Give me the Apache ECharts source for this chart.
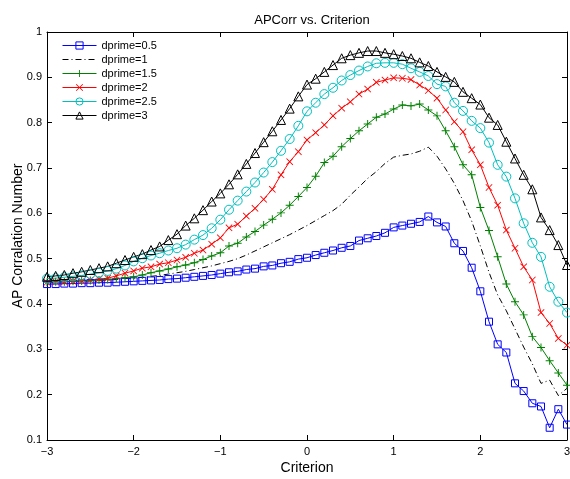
<!DOCTYPE html>
<html><head><meta charset="utf-8">
<script src="https://cdn.jsdelivr.net/npm/echarts@6/dist/echarts.min.js"></script>
<style>html,body{margin:0;padding:0;background:#fff}#c{width:570px;height:479px}</style>
</head><body><div id="c"></div>
<script>
var criterion = [-3.0,-2.9,-2.8,-2.7,-2.6,-2.5,-2.4,-2.3,-2.2,-2.1,-2.0,-1.9,-1.8,-1.7,-1.6,-1.5,-1.4,-1.3,-1.2,-1.1,-1.0,-0.9,-0.8,-0.7,-0.6,-0.5,-0.4,-0.3,-0.2,-0.1,0.0,0.1,0.2,0.3,0.4,0.5,0.6,0.7,0.8,0.9,1.0,1.1,1.2,1.3,1.4,1.5,1.6,1.7,1.8,1.9,2.0,2.1,2.2,2.3,2.4,2.5,2.6,2.7,2.8,2.9,3.0];
var d05 = [0.444,0.444,0.445,0.445,0.446,0.446,0.447,0.447,0.448,0.449,0.450,0.451,0.452,0.453,0.455,0.456,0.458,0.460,0.462,0.464,0.467,0.470,0.472,0.476,0.478,0.483,0.485,0.490,0.493,0.499,0.502,0.508,0.513,0.518,0.524,0.528,0.540,0.545,0.550,0.557,0.569,0.573,0.577,0.581,0.593,0.580,0.571,0.534,0.517,0.480,0.428,0.361,0.311,0.293,0.225,0.208,0.181,0.174,0.127,0.168,0.134];
var d1 = [0.448,0.448,0.449,0.449,0.450,0.451,0.452,0.453,0.454,0.456,0.457,0.459,0.461,0.463,0.466,0.469,0.472,0.476,0.480,0.484,0.489,0.494,0.500,0.508,0.517,0.526,0.535,0.544,0.553,0.563,0.573,0.584,0.595,0.606,0.620,0.640,0.658,0.677,0.692,0.710,0.724,0.728,0.731,0.737,0.746,0.726,0.698,0.666,0.628,0.583,0.528,0.470,0.420,0.385,0.345,0.305,0.268,0.225,0.232,0.198,0.214];
var d15 = [0.448,0.449,0.449,0.450,0.451,0.452,0.453,0.454,0.456,0.458,0.460,0.464,0.469,0.473,0.477,0.482,0.486,0.491,0.498,0.506,0.513,0.528,0.534,0.548,0.560,0.574,0.587,0.601,0.618,0.637,0.657,0.682,0.712,0.726,0.747,0.765,0.782,0.797,0.812,0.819,0.830,0.839,0.837,0.841,0.828,0.815,0.782,0.747,0.707,0.685,0.613,0.562,0.504,0.444,0.405,0.376,0.328,0.304,0.275,0.248,0.221];
var d2 = [0.448,0.449,0.449,0.450,0.451,0.453,0.455,0.457,0.462,0.468,0.473,0.479,0.482,0.488,0.491,0.497,0.503,0.512,0.519,0.532,0.546,0.568,0.576,0.594,0.611,0.631,0.653,0.685,0.714,0.736,0.762,0.778,0.795,0.815,0.832,0.846,0.863,0.874,0.889,0.894,0.899,0.898,0.895,0.883,0.871,0.854,0.828,0.802,0.780,0.740,0.707,0.657,0.618,0.563,0.523,0.482,0.453,0.381,0.357,0.324,0.309];
var d25 = [0.456,0.457,0.459,0.461,0.463,0.466,0.469,0.473,0.478,0.485,0.494,0.501,0.507,0.512,0.518,0.523,0.531,0.542,0.552,0.567,0.586,0.608,0.628,0.648,0.668,0.690,0.713,0.738,0.764,0.793,0.825,0.844,0.863,0.877,0.893,0.905,0.915,0.924,0.931,0.932,0.932,0.929,0.920,0.912,0.903,0.885,0.880,0.844,0.826,0.804,0.788,0.756,0.707,0.681,0.633,0.578,0.535,0.504,0.438,0.405,0.381];
var d3 = [0.460,0.462,0.464,0.468,0.471,0.475,0.479,0.483,0.490,0.497,0.504,0.510,0.519,0.527,0.541,0.554,0.573,0.589,0.607,0.626,0.644,0.664,0.686,0.709,0.733,0.757,0.781,0.806,0.831,0.858,0.884,0.897,0.912,0.927,0.942,0.949,0.954,0.958,0.958,0.954,0.951,0.947,0.942,0.933,0.925,0.912,0.901,0.890,0.868,0.854,0.840,0.811,0.795,0.758,0.721,0.685,0.653,0.591,0.563,0.530,0.486];
var seriesNames = ['dprime=0.5','dprime=1','dprime=1.5','dprime=2','dprime=2.5','dprime=3'];
var seriesData = [d05, d1, d15, d2, d25, d3];

var colors = ['#0000ff','#000000','#008000','#ff0000','#00bfbf','#000000'];
var plusPath = 'path://M4.4,0H5.6V4.4H10V5.6H5.6V10H4.4V5.6H0V4.4H4.4Z';
var crossPath = 'path://M0,0.85L0.85,0L5,4.15L9.15,0L10,0.85L5.85,5L10,9.15L9.15,10L5,5.85L0.85,10L0,9.15L4.15,5Z';
var symbols = ['rect','none',plusPath,crossPath,'circle','triangle'];
var filled = [false,false,true,true,false,false];
var sizes = [7,0,8,7,9,9];
var dashDot = [6,3,1,3];

function pairs(ys){ var out=[]; for(var i=0;i<criterion.length;i++) out.push([criterion[i], ys[i]]); return out; }
function symStyle(i){
  return filled[i] ? {color:colors[i], borderWidth:0}
                   : {color:'rgba(0,0,0,0)', borderColor:colors[i], borderWidth:1};
}

var font = 'Liberation Sans, Arial, Helvetica, sans-serif';
var series = seriesNames.map(function(n,i){
  return {
    name:n, type:'line', data:pairs(seriesData[i]), xAxisIndex:0, yAxisIndex:0,
    symbol:symbols[i], symbolSize:sizes[i], showSymbol: i!==1,
    color: colors[i],
    lineStyle:{color:colors[i], width:1, type: i===1 ? dashDot : 'solid'},
    itemStyle:symStyle(i),
    emphasis:{disabled:true}, animation:false
  };
});

var legendData = seriesNames.map(function(n,i){
  var st = symStyle(i);
  if (i===1) st.opacity = 0;
  return {name:n, itemStyle:st,
    lineStyle:{color:colors[i], width:1, type: i===1 ? dashDot : 'solid'}};
});

var chart = echarts.init(document.getElementById('c'));
chart.setOption({
  backgroundColor:'#fff',
  animation:false,
  title:{text:'APCorr vs. Criterion', left:307, top:9, textAlign:'center',
    textStyle:{fontFamily:font, fontSize:13, fontWeight:'normal', color:'#000'}},
  grid:{left:47, right:3, top:32, bottom:39, containLabel:false, outerBoundsMode:'none'},
  legend:{orient:'vertical', left:62, top:40, padding:0, itemWidth:34, itemHeight:9, itemGap:3,
    textStyle:{fontFamily:font, fontSize:11, color:'#000'}, data:legendData, selectedMode:false},
  xAxis:[
    {type:'value', position:'bottom', min:-3, max:3, interval:1,
     name:'Criterion', nameLocation:'middle', nameGap:21, nameMoveOverlap:false,
     nameTextStyle:{fontFamily:font, fontSize:14, color:'#000'},
     axisLine:{show:true, onZero:false, lineStyle:{color:'#000'}},
     axisTick:{show:true, inside:true, length:5, lineStyle:{color:'#000'}},
     axisLabel:{fontFamily:font, fontSize:11, color:'#000', margin:6,
       formatter:function(v){return v<0 ? '\u2212'+Math.abs(v) : String(v);}},
     splitLine:{show:false}},
    {type:'value', position:'top', min:-3, max:3, interval:1,
     axisLine:{show:true, onZero:false, lineStyle:{color:'#000'}},
     axisTick:{show:true, inside:true, length:5, lineStyle:{color:'#000'}},
     axisLabel:{show:false}, splitLine:{show:false}}
  ],
  yAxis:[
    {type:'value', position:'left', min:0.1, max:1, interval:0.1,
     name:'AP Corralation Number', nameLocation:'middle', nameGap:22, nameMoveOverlap:false,
     nameTextStyle:{fontFamily:font, fontSize:14, color:'#000'},
     axisLine:{show:true, onZero:false, lineStyle:{color:'#000'}},
     axisTick:{show:true, inside:true, length:5, lineStyle:{color:'#000'}},
     axisLabel:{fontFamily:font, fontSize:11, color:'#000', margin:5,
       formatter:function(v){return String(Math.round(v*10)/10);}},
     splitLine:{show:false}},
    {type:'value', position:'right', min:0.1, max:1, interval:0.1,
     axisLine:{show:true, onZero:false, lineStyle:{color:'#000'}},
     axisTick:{show:true, inside:true, length:5, lineStyle:{color:'#000'}},
     axisLabel:{show:false}, splitLine:{show:false}}
  ],
  series:series
});
</script></body></html>
